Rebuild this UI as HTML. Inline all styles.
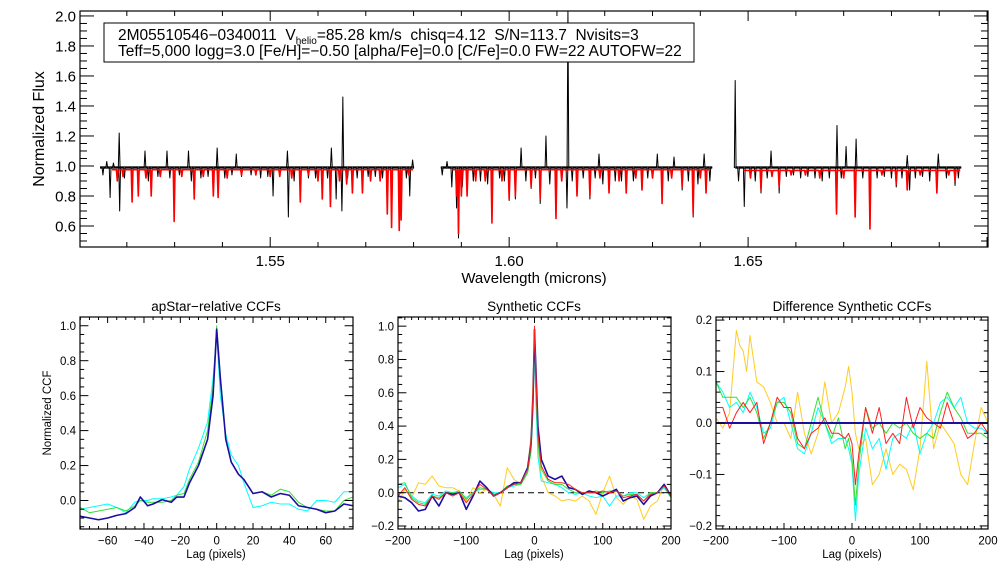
<!DOCTYPE html>
<html><head><meta charset="utf-8"><style>
html,body{margin:0;padding:0;background:#fff;}
svg{display:block;font-family:"Liberation Sans",sans-serif;}
</style></head><body>
<svg id="fig" width="1008" height="576" viewBox="0 0 1008 576" xmlns="http://www.w3.org/2000/svg">
<rect width="1008" height="576" fill="#fff"/>
</svg>
<script>
// ---------- TOP SPECTRUM DATA ----------
const specSegments = [[1.5144,1.5801],[1.5857,1.6425],[1.6473,1.6946]];
const redSegments = [[1.5169,1.5799],[1.5881,1.6420],[1.6490,1.6944]];
const blackContinuum = [0.99,0.99,0.99];
const redContinuum = [0.975,0.975,0.97];
const blackLines = [
[1.5150,0.94],[1.5158,1.03],[1.5165,0.79],[1.5172,1.02],[1.5184,1.22],[1.5185,0.70],[1.5195,0.92],[1.5211,0.80],[1.5224,0.83],[1.5238,1.10],[1.5245,0.90],[1.5251,0.84],[1.5265,0.93],[1.5284,1.10],[1.5290,0.92],[1.5299,0.66],[1.5310,0.94],[1.5329,1.10],[1.5335,0.90],[1.5341,0.80],[1.5355,0.92],[1.5370,0.93],[1.5381,0.82],[1.5389,1.12],[1.5391,0.80],[1.5405,0.92],[1.5420,0.94],[1.5429,1.08],[1.5440,0.93],[1.5460,0.94],[1.5480,0.92],[1.5495,0.93],[1.5506,0.80],[1.5520,0.93],[1.5536,1.10],[1.5538,0.66],[1.5550,0.90],[1.5563,0.78],[1.5580,0.92],[1.5595,0.92],[1.5609,0.80],[1.5620,0.92],[1.5626,0.75],[1.5628,1.12],[1.5638,0.78],[1.5650,0.70],[1.5652,1.46],[1.5662,0.92],[1.5672,0.83],[1.5682,0.92],[1.5693,0.83],[1.5705,0.93],[1.5720,0.93],[1.5735,0.92],[1.5745,0.72],[1.5754,0.62],[1.5770,0.60],[1.5774,0.66],[1.5785,0.92],[1.5792,0.80],[1.5798,1.04],
[1.5860,0.94],[1.5870,1.03],[1.5880,0.86],[1.5890,0.72],[1.5894,0.52],[1.5902,0.86],[1.5912,0.80],[1.5925,0.90],[1.5940,0.90],[1.5955,0.88],[1.5964,0.64],[1.5980,0.92],[1.5990,0.90],[1.6000,0.77],[1.6013,0.78],[1.6025,1.12],[1.6035,0.90],[1.6046,0.85],[1.6055,0.92],[1.6065,0.75],[1.6077,1.20],[1.6085,0.88],[1.6098,0.66],[1.6110,0.90],[1.6121,0.72],[1.6123,2.05],[1.6132,0.90],[1.6142,0.80],[1.6155,0.92],[1.6169,0.78],[1.6180,0.92],[1.6188,1.08],[1.6196,0.88],[1.6209,0.82],[1.6222,0.90],[1.6235,0.90],[1.6245,0.82],[1.6260,0.90],[1.6278,0.84],[1.6290,0.92],[1.6310,1.08],[1.6320,0.78],[1.6333,0.90],[1.6345,1.06],[1.6362,0.84],[1.6375,0.90],[1.6385,0.66],[1.6395,0.88],[1.6408,1.08],[1.6412,0.82],[1.6420,0.90],
[1.6473,1.57],[1.6480,0.90],[1.6492,0.73],[1.6505,0.92],[1.6515,0.90],[1.6527,0.82],[1.6540,0.92],[1.6548,1.10],[1.6565,0.82],[1.6580,0.93],[1.6595,0.94],[1.6610,0.92],[1.6625,0.93],[1.6640,0.92],[1.6655,0.90],[1.6670,0.92],[1.6685,0.70],[1.6686,1.27],[1.6695,0.92],[1.6705,1.13],[1.6724,0.67],[1.6726,1.18],[1.6740,0.92],[1.6755,0.58],[1.6770,0.92],[1.6785,0.93],[1.6800,0.92],[1.6810,0.86],[1.6822,0.92],[1.6833,1.07],[1.6838,0.84],[1.6850,0.92],[1.6865,0.93],[1.6880,0.90],[1.6895,0.82],[1.6898,1.08],[1.6915,0.92],[1.6933,0.87],[1.6940,0.92]
];
const redLines = [
[1.5180,0.90],[1.5192,0.93],[1.5211,0.76],[1.5224,0.80],[1.5240,0.92],[1.5251,0.80],[1.5270,0.93],[1.5299,0.63],[1.5315,0.93],[1.5341,0.78],[1.5360,0.93],[1.5381,0.80],[1.5391,0.79],[1.5410,0.92],[1.5440,0.94],[1.5470,0.94],[1.5500,0.93],[1.5520,0.93],[1.5545,0.92],[1.5563,0.76],[1.5580,0.94],[1.5600,0.90],[1.5609,0.78],[1.5626,0.73],[1.5645,0.90],[1.5660,0.88],[1.5672,0.82],[1.5693,0.82],[1.5710,0.90],[1.5730,0.90],[1.5745,0.68],[1.5754,0.59],[1.5770,0.57],[1.5774,0.64],[1.5790,0.94],
[1.5890,0.80],[1.5894,0.55],[1.5900,0.80],[1.5912,0.80],[1.5930,0.90],[1.5950,0.90],[1.5964,0.62],[1.5985,0.90],[1.6000,0.78],[1.6013,0.80],[1.6046,0.86],[1.6065,0.78],[1.6098,0.65],[1.6110,0.90],[1.6142,0.80],[1.6169,0.80],[1.6190,0.92],[1.6209,0.82],[1.6230,0.90],[1.6245,0.82],[1.6265,0.92],[1.6278,0.84],[1.6300,0.92],[1.6320,0.75],[1.6340,0.92],[1.6362,0.86],[1.6385,0.68],[1.6400,0.92],[1.6412,0.82],
[1.6505,0.92],[1.6527,0.84],[1.6550,0.93],[1.6565,0.86],[1.6590,0.94],[1.6620,0.94],[1.6650,0.92],[1.6685,0.68],[1.6700,0.92],[1.6724,0.66],[1.6755,0.58],[1.6780,0.94],[1.6810,0.88],[1.6833,0.84],[1.6860,0.94],[1.6895,0.82],[1.6920,0.94],[1.6933,0.90]
];
// ---------- CCF PANEL 1 DATA ----------
const lag1 = [-75,-70,-65,-60,-55,-50,-45,-42,-38,-35,-30,-25,-22,-18,-15,-10,-5,-2,0,2,5,8,12,15,20,25,30,35,40,45,50,55,60,65,70,75];
const ccf1Blue = [-0.09,-0.10,-0.11,-0.10,-0.085,-0.075,-0.04,0.02,-0.03,-0.02,0.005,-0.01,0.02,0.02,0.10,0.20,0.35,0.60,0.98,0.70,0.35,0.22,0.15,0.12,0.04,0.05,0.02,0.04,0.03,-0.03,-0.04,-0.05,-0.07,-0.06,-0.02,-0.03];
const ccf1Green = [-0.04,-0.07,-0.06,-0.05,-0.04,-0.06,-0.03,0.0,-0.01,-0.01,-0.01,0.0,0.03,0.04,0.12,0.22,0.40,0.65,1.0,0.72,0.35,0.22,0.15,0.12,0.04,0.05,0.03,0.065,0.05,-0.01,-0.04,-0.05,-0.06,-0.06,0.0,0.02];
const ccf1Cyan = [-0.05,-0.04,-0.03,-0.02,-0.04,-0.07,-0.01,0.0,0.0,0.01,0.01,0.02,0.03,0.08,0.18,0.30,0.45,0.70,0.95,0.60,0.38,0.26,0.20,0.10,-0.04,-0.03,-0.01,-0.02,-0.02,-0.05,-0.06,0.0,0.0,-0.01,0.05,0.05];
// ---------- CCF PANEL 2 DATA ----------
const lag2 = [-200,-190,-180,-170,-160,-150,-140,-130,-120,-110,-100,-90,-80,-70,-60,-50,-40,-30,-20,-10,-5,-2,0,2,5,10,20,30,40,50,60,70,80,90,100,110,120,130,140,150,160,170,180,190,200];
const ccf2Blue  = [-0.02,-0.03,-0.06,-0.11,-0.10,-0.02,-0.08,0.0,-0.01,0.0,-0.10,-0.02,0.07,0.03,-0.02,0.0,0.03,0.06,0.06,0.15,0.30,0.60,0.98,0.75,0.40,0.20,0.10,0.08,0.10,0.03,0.02,-0.01,0.01,0.0,-0.02,0.0,0.02,-0.05,-0.03,-0.02,-0.07,-0.02,0.0,0.05,-0.02];
const ccf2Green = [0.05,0.06,-0.03,-0.06,-0.07,-0.02,-0.03,0.0,0.0,0.01,-0.04,0.0,0.03,0.02,-0.01,0.0,0.04,0.05,0.05,0.12,0.25,0.50,0.90,0.62,0.30,0.14,0.07,0.05,0.05,0.02,0.0,0.0,0.0,0.01,0.0,0.01,0.01,-0.02,-0.01,-0.01,-0.05,0.0,0.0,0.04,-0.03];
const ccf2Cyan  = [0.03,0.05,-0.02,-0.05,-0.06,-0.01,-0.02,0.01,0.0,0.0,-0.03,0.0,0.02,0.02,0.0,0.0,0.03,0.04,0.05,0.13,0.28,0.55,0.95,0.55,0.22,0.07,0.06,0.05,0.03,0.0,-0.01,0.0,-0.02,-0.03,-0.02,-0.08,-0.02,-0.02,0.0,0.0,-0.03,0.0,0.0,0.03,-0.03];
const ccf2Red   = [-0.02,0.03,-0.04,-0.07,-0.08,-0.02,-0.04,0.0,-0.02,0.0,-0.06,-0.01,0.05,0.02,-0.02,0.0,0.03,0.05,0.06,0.14,0.30,0.62,1.0,0.72,0.35,0.16,0.08,0.06,0.06,0.05,0.02,0.0,0.0,0.0,0.01,0.0,0.01,-0.03,-0.02,-0.01,-0.05,-0.01,0.0,0.04,-0.02];
const ccf2Yellow= [-0.06,0.02,-0.03,0.06,0.05,0.10,0.04,0.03,0.03,0.01,-0.05,0.03,0.0,0.02,-0.01,-0.08,0.15,0.08,0.05,0.15,0.35,0.70,0.95,0.60,0.25,0.10,0.0,-0.02,-0.05,-0.04,-0.05,-0.02,-0.05,-0.13,0.0,0.10,-0.03,-0.07,-0.02,-0.04,-0.16,-0.08,-0.05,0.05,-0.02];
// ---------- CCF PANEL 3 DATA ----------
const lag3 = [-200,-190,-180,-170,-165,-160,-155,-150,-140,-130,-120,-110,-100,-90,-80,-70,-60,-50,-40,-30,-20,-10,-5,0,5,10,20,30,40,50,60,70,80,90,100,110,120,130,140,150,160,170,180,190,200];
const dYellow = [0.01,-0.01,0.02,0.18,0.15,0.14,0.10,0.17,0.08,0.07,0.04,0.0,0.0,-0.03,0.06,-0.02,-0.06,-0.02,0.08,0.0,0.02,0.07,0.11,0.06,-0.02,-0.05,-0.03,-0.12,-0.10,-0.05,-0.10,-0.08,-0.09,-0.13,-0.05,0.12,-0.05,0.0,-0.02,-0.04,-0.10,-0.12,-0.04,0.03,0.0];
const dCyan   = [0.08,0.06,0.03,0.04,0.03,0.02,0.04,0.06,0.03,-0.02,-0.01,0.04,0.05,0.0,-0.05,-0.06,-0.02,0.03,0.0,-0.04,-0.03,-0.03,-0.05,-0.08,-0.19,-0.10,-0.01,-0.05,-0.03,-0.09,-0.03,-0.02,-0.03,0.0,-0.06,-0.02,0.0,0.04,0.05,0.03,0.05,0.0,-0.01,-0.01,-0.02];
const dGreen  = [0.08,0.05,0.05,0.05,0.04,0.03,0.04,0.05,0.02,-0.03,0.0,0.04,0.04,0.02,-0.04,-0.05,0.0,0.05,0.0,-0.03,0.01,-0.05,-0.03,-0.07,-0.16,-0.08,0.03,-0.01,0.0,-0.02,0.0,-0.01,0.0,-0.02,-0.03,-0.02,-0.03,0.02,0.06,0.03,0.01,-0.02,-0.02,-0.02,-0.03];
const dRed    = [0.03,0.03,-0.01,0.02,0.03,0.04,0.03,0.02,0.04,-0.04,0.0,0.05,0.03,0.03,-0.03,-0.05,-0.02,-0.01,0.01,-0.02,-0.02,-0.03,-0.02,-0.04,-0.12,-0.06,0.03,-0.02,0.03,-0.04,-0.02,-0.04,0.05,-0.01,0.03,0.01,0.0,-0.01,0.04,0.0,0.0,-0.03,-0.02,0.0,-0.02];
const dBlue   = [0,0];
const dBlueLag = [-200,200];

const NS='http://www.w3.org/2000/svg';
const fig=document.getElementById('fig');
function mk(tag,attrs,parent){const e=document.createElementNS(NS,tag);for(const k in attrs)e.setAttribute(k,attrs[k]);(parent||fig).appendChild(e);return e;}
function txt(s,x,y,size,anchor,parent){const t=mk('text',{x:x,y:y,'font-size':size,'text-anchor':anchor||'middle',fill:'#000'},parent);t.textContent=s;return t;}

function axes(o){
  const g=mk('g',{});
  
  
  const sx=v=>o.L+(v-o.x0)/(o.x1-o.x0)*(o.R-o.L);
  const sy=v=>o.B-(v-o.y0)/(o.y1-o.y0)*(o.B-o.T);
  const clipId='c'+o.name;
  const cp=mk('clipPath',{id:clipId},g);mk('rect',{x:o.L,y:o.T,width:o.R-o.L,height:o.B-o.T},cp);
  const plot=mk('g',{'clip-path':'url(#'+clipId+')'},g);
  
  
  const tk=mk('g',{stroke:'#000','stroke-width':1,fill:'none'},g);
  
  
  const eps=1e-9;
  for(let v=Math.ceil(o.x0/o.xmin-eps)*o.xmin;v<=o.x1+eps;v+=o.xmin){
    const major=Math.abs(v/o.xmaj-Math.round(v/o.xmaj))<1e-6;const len=major?o.tl:o.tl/2;const x=sx(v);
    mk('line',{x1:x,y1:o.B,x2:x,y2:o.B-len},tk);mk('line',{x1:x,y1:o.T,x2:x,y2:o.T+len},tk);
  }
  for(let v=Math.ceil(o.y0/o.ymin-eps)*o.ymin;v<=o.y1+eps;v+=o.ymin){
    const major=Math.abs(v/o.ymaj-Math.round(v/o.ymaj))<1e-6;const len=major?o.tl*1.4:o.tl*0.7;const y=sy(v);
    mk('line',{x1:o.L,y1:y,x2:o.L+len,y2:y},tk);mk('line',{x1:o.R,y1:y,x2:o.R-len,y2:y},tk);
  }
  mk('rect',{x:o.L,y:o.T,width:o.R-o.L,height:o.B-o.T,fill:'none',stroke:'#000','stroke-width':1.2},g);
  const xl=mk('g',{},g);
  o.xlabels.forEach(v=>txt(o.xfmt(v),sx(v),o.B+o.fs+4,o.fs,'middle',xl));
  const yl=mk('g',{},g);
  o.ylabels.forEach(v=>txt(o.yfmt(v),o.L-4,sy(v)+o.fs*0.36,o.fs,'end',yl));
  return {g,plot,sx,sy};
}
function line(ax,xs,ys,color,w,name,dash){
  let d='';xs.forEach((x,i)=>{d+=(i?'L':'M')+ax.sx(x).toFixed(2)+','+ax.sy(ys[i]).toFixed(2);});
  const p=mk('path',{d:d,fill:'none',stroke:color,'stroke-width':w,'stroke-linejoin':'round'},ax.plot);
  if(dash)p.setAttribute('stroke-dasharray',dash);
  
  
  return p;
}
const mfmt=v=>(v<0?'\u2212':'')+Math.abs(v).toFixed(0);
const dfmt=v=>(v<0?'\u2212':'')+Math.abs(v).toFixed(1);

// ---------- TOP ----------
const topAx=axes({name:'spectrum-panel',L:80,R:988,T:11,B:247,x0:1.5102,x1:1.7002,y0:0.46,y1:2.033,xmin:0.01,xmaj:0.05,ymin:0.05,ymaj:0.2,tl:10,fs:15,
  xlabels:[1.55,1.60,1.65],xfmt:v=>v.toFixed(2),ylabels:[0.6,0.8,1.0,1.2,1.4,1.6,1.8,2.0],yfmt:v=>v.toFixed(1)});
function spec(lines,segs,cont,color,w,name){
  segs.forEach((s,si)=>{
    const xs=[s[0]],ys=[cont[si]];
    lines.filter(l=>l[0]>=s[0]&&l[0]<=s[1]).sort((a,b)=>a[0]-b[0]).forEach(l=>{xs.push(l[0]-0.00018,l[0],l[0]+0.00018);ys.push(cont[si],l[1],cont[si]);});
    xs.push(s[1]);ys.push(cont[si]);
    line(topAx,xs,ys,color,w,name+'-segment-'+(si+1));
  });
}
specSegments.forEach((s,si)=>{const p=line(topAx,[s[0],s[1]],[blackContinuum[si],blackContinuum[si]],'#222',3,'observed-continuum-band-'+(si+1));p.setAttribute('opacity','0.75');});
spec(blackLines,specSegments,blackContinuum,'#000',1,'observed-spectrum');
spec(redLines,redSegments,redContinuum,'#ff0000',1.6,'model-spectrum');
const tx=txt('Wavelength (microns)',534,283,15);
const ty=txt('Normalized Flux',0,0,16);ty.setAttribute('transform','translate(44,129) rotate(-90)');
const infoBox=mk('g',{});
mk('rect',{x:104,y:23,width:590,height:39,fill:'#fff',stroke:'#000','stroke-width':1},infoBox);
const t1=mk('text',{x:118,y:40,'font-size':15.5,fill:'#000'},infoBox);
const s1=mk('tspan',{},t1);s1.textContent='2M05510546\u22120340011\u00a0\u00a0V';
const s2=mk('tspan',{'font-size':10,dy:4},t1);s2.textContent='helio';
const s3=mk('tspan',{dy:-4},t1);s3.textContent='=85.28 km/s\u00a0\u00a0chisq=4.12\u00a0\u00a0S/N=113.7\u00a0\u00a0Nvisits=3';
const t2=mk('text',{x:118,y:56,'font-size':15.5,fill:'#000'},infoBox);
t2.textContent='Teff=5,000 logg=3.0 [Fe/H]=\u22120.50 [alpha/Fe]=0.0 [C/Fe]=0.0 FW=22 AUTOFW=22';

// ---------- PANEL 1 ----------
const p1=axes({name:'apstar-ccf-panel',L:80,R:353,T:317,B:529,x0:-75.2,x1:75,y0:-0.163,y1:1.05,xmin:5,xmaj:20,ymin:0.05,ymaj:0.2,tl:6,fs:11.5,
  xlabels:[-60,-40,-20,0,20,40,60],xfmt:mfmt,ylabels:[0,0.2,0.4,0.6,0.8,1.0],yfmt:dfmt});
line(p1,lag1,ccf1Cyan,'#00ffff',1,'apstar-ccf-cyan');
line(p1,lag1,ccf1Green,'#33e033',1,'apstar-ccf-green');
line(p1,lag1,ccf1Blue,'#1c0ea0',1.6,'apstar-ccf-blue');
// ---------- PANEL 2 ----------
const p2=axes({name:'synthetic-ccf-panel',L:398,R:671,T:317,B:529,x0:-200,x1:200,y0:-0.218,y1:1.055,xmin:10,xmaj:100,ymin:0.05,ymaj:0.2,tl:6,fs:11.5,
  xlabels:[-200,-100,0,100,200],xfmt:mfmt,ylabels:[-0.2,0,0.2,0.4,0.6,0.8,1.0],yfmt:dfmt});
line(p2,[-200,200],[0,0],'#000',1,'synthetic-zero-line','6,4');
line(p2,lag2,ccf2Yellow,'#ffcc22',1,'synthetic-ccf-yellow');
line(p2,lag2,ccf2Cyan,'#00ffff',1,'synthetic-ccf-cyan');
line(p2,lag2,ccf2Green,'#33e033',1,'synthetic-ccf-green');
line(p2,lag2,ccf2Blue,'#1c0ea0',1.6,'synthetic-ccf-blue');
line(p2,lag2,ccf2Red,'#ff2020',1,'synthetic-ccf-red');
// ---------- PANEL 3 ----------
const p3=axes({name:'difference-ccf-panel',L:716,R:988,T:317,B:529,x0:-200,x1:200,y0:-0.206,y1:0.206,xmin:10,xmaj:100,ymin:0.02,ymaj:0.1,tl:6,fs:11.5,
  xlabels:[-200,-100,0,100,200],xfmt:mfmt,ylabels:[-0.2,-0.1,0,0.1,0.2],yfmt:dfmt});
line(p3,lag3,dYellow,'#ffcc22',1,'difference-ccf-yellow');
line(p3,lag3,dCyan,'#00ffff',1,'difference-ccf-cyan');
line(p3,lag3,dGreen,'#33e033',1,'difference-ccf-green');
line(p3,lag3,dRed,'#ff2020',1,'difference-ccf-red');
line(p3,dBlueLag,dBlue,'#1c0ea0',2,'difference-ccf-blue');

[['apStar\u2212relative CCFs',216,'apstar-title'],['Synthetic CCFs',534,'synthetic-title'],['Difference Synthetic CCFs',852,'difference-title']].forEach(a=>{
  const t=txt(a[0],a[1],311,13.5);});
[[216,'apstar-x-axis-title'],[534,'synthetic-x-axis-title'],[852,'difference-x-axis-title']].forEach(a=>{
  const t=txt('Lag (pixels)',a[0],558,11.5);});
const yt=txt('Normalized CCF',0,0,11.5);yt.setAttribute('transform','translate(51,413) rotate(-90)');
</script>
</body></html>
